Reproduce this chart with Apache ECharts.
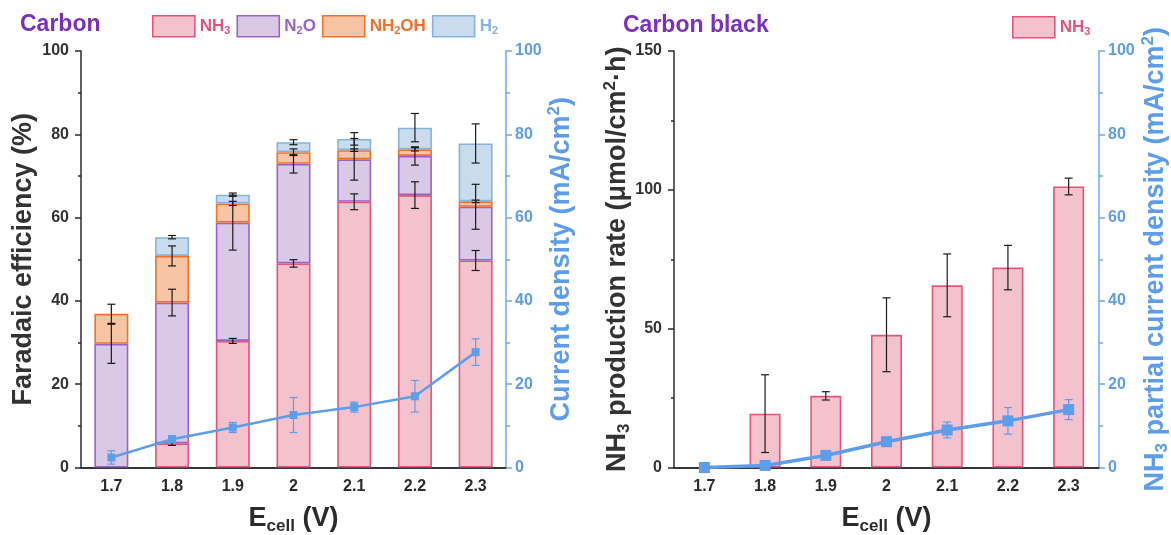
<!DOCTYPE html>
<html>
<head>
<meta charset="utf-8">
<script src="https://cdn.jsdelivr.net/npm/echarts@6/dist/echarts.min.js"></script>
<style>
  html, body { margin: 0; padding: 0; background: #fff; }
  #chart { width: 1171px; height: 535px; }
</style>
</head>
<body>
<div id="chart"></div>
<script>
// Cell voltages (V)
const categories = ['1.7', '1.8', '1.9', '2', '2.1', '2.2', '2.3'];

// Carbon: Faradaic efficiency per product (%), stacked
const feNH3   = [null, 5.8, 30.4, 49.0, 63.8, 65.4, 49.7];
const feN2O   = [29.7, 33.8, 28.4, 23.9, 10.2, 9.4, 12.9];
const feNH2OH = [7.2, 11.2, 4.6, 2.8, 2.2, 1.6, 1.3];
const feH2    = [null, 4.5, 2.1, 2.4, 2.7, 5.2, 13.9];
// error of each stacked segment (drawn at the segment top)
const feNH3Err   = [null, 0.5, 0.6, 0.9, 1.9, 3.2, 2.4];
const feN2OErr   = [4.7, 3.2, 6.6, 2.2, 5.0, 2.2, 5.4];
const feNH2OHErr = [2.3, 2.4, 0.5, 0.8, 0.3, 0.4, 0.3];
const feH2Err    = [null, 0.4, 0.4, 0.6, 1.5, 3.4, 4.7];

// Carbon: total current density (mA/cm2)
const currentDensity    = [2.4, 6.8, 9.6, 12.6, 14.5, 17.1, 27.7];
const currentDensityErr = [1.6, 0.8, 1.2, 4.2, 1.2, 3.8, 3.2];

// Carbon black: NH3 production rate (umol/cm2 h)
const nh3Rate    = [null, 19.4, 25.8, 47.8, 65.6, 72.0, 101.2];
const nh3RateErr = [null, 14.0, 1.5, 13.3, 11.3, 8.0, 3.0];

// Carbon black: NH3 partial current density (mA/cm2)
const nh3Partial    = [0, 0.5, 2.9, 6.2, 9.0, 11.2, 13.9];
const nh3PartialErr = [null, 0.3, 0.5, 0.7, 1.9, 3.2, 2.4];

// Axis ticks
const feTicks = { min: 0, max: 100, interval: 20 };
const jTicks = { min: 0, max: 100, interval: 20 };
const rateTicks = { min: 0, max: 150, interval: 50 };

const FONT = 'Liberation Sans, Arial, sans-serif';
const C = {
  nh3:   { fill: '#f4c2cd', line: '#e2557a' },
  n2o:   { fill: '#d9c9e6', line: '#9c62c4' },
  nh2oh: { fill: '#f7c5a3', line: '#f07127' },
  h2:    { fill: '#c9dcee', line: '#86b3dc' },
  blue: '#5d9de9',
  axisBlue: '#6ea8ef',
  dark: '#2b2b2b',
  purple: '#7a2fbd'
};

// rich-text styles: m = main, s = subscript, p = superscript
function richSet(color, size) {
  return {
    m: { color: color, fontSize: size, fontWeight: 'bold', fontFamily: FONT, lineHeight: size + 4 },
    s: { color: color, fontSize: Math.round(size * 0.62), fontWeight: 'bold', fontFamily: FONT,
         verticalAlign: 'bottom', lineHeight: Math.round(size * 0.62) },
    p: { color: color, fontSize: Math.round(size * 0.62), fontWeight: 'bold', fontFamily: FONT,
         verticalAlign: 'top', lineHeight: Math.round(size * 0.62) }
  };
}

const legendLabels = {
  'NH3': '{m|NH}{s|3}',
  'N2O': '{m|N}{s|2}{m|O}',
  'NH2OH': '{m|NH}{s|2}{m|OH}',
  'H2': '{m|H}{s|2}',
  'NH3 rate': '{m|NH}{s|3}'
};

function legendItem(name, color) {
  return { name: name, textStyle: { rich: richSet(color, 17) } };
}

// stacked tops for placing segment error bars
const stacks = [feNH3, feN2O, feNH2OH, feH2];
const stackErrs = [feNH3Err, feN2OErr, feNH2OHErr, feH2Err];
const stackColors = [C.nh3, C.n2o, C.nh2oh, C.h2];
const stackNames = ['NH3', 'N2O', 'NH2OH', 'H2'];
const feErrData = [];
let running = categories.map(() => 0);
stacks.forEach((s, k) => {
  running = running.map((r, i) => r + (s[i] || 0));
  s.forEach((v, i) => {
    if (v != null && stackErrs[k][i] != null) feErrData.push([i, running[i], stackErrs[k][i]]);
  });
});

function pairErr(values, errs) {
  const out = [];
  values.forEach((v, i) => { if (v != null && errs[i] != null) out.push([i, v, errs[i]]); });
  return out;
}

function errorBar(color, cap, width) {
  return function (params, api) {
    const x = api.value(0), y = api.value(1), e = api.value(2);
    const lo = api.coord([x, y - e]);
    const hi = api.coord([x, y + e]);
    const st = { stroke: color, lineWidth: width };
    return {
      type: 'group',
      children: [
        { type: 'line', shape: { x1: lo[0], y1: lo[1], x2: hi[0], y2: hi[1] }, style: st },
        { type: 'line', shape: { x1: lo[0] - cap, y1: lo[1], x2: lo[0] + cap, y2: lo[1] }, style: st },
        { type: 'line', shape: { x1: hi[0] - cap, y1: hi[1], x2: hi[0] + cap, y2: hi[1] }, style: st }
      ]
    };
  };
}

function bottomAxis(gridIndex) {
  return {
    type: 'category', gridIndex: gridIndex, data: categories, position: 'bottom',
    axisLine: { lineStyle: { color: C.dark, width: 1.5 } },
    axisTick: { alignWithLabel: true, length: 5, lineStyle: { color: C.dark, width: 1.5 } },
    axisLabel: { color: C.dark, fontSize: 16, fontWeight: 'bold', fontFamily: FONT, margin: 11 },
    name: '{m|E}{s|cell}{m| (V)}',
    nameLocation: 'middle', nameGap: 36, nameMoveOverlap: false,
    nameTextStyle: { rich: richSet(C.dark, 27) }
  };
}
function topAxis(gridIndex) {
  return {
    type: 'category', gridIndex: gridIndex, data: categories, position: 'top',
    axisLine: { lineStyle: { color: C.dark, width: 1.5 } },
    axisTick: { show: false }, axisLabel: { show: false }
  };
}
function leftAxis(gridIndex, ticks, name, gap) {
  return {
    type: 'value', gridIndex: gridIndex, position: 'left',
    min: ticks.min, max: ticks.max, interval: ticks.interval,
    splitLine: { show: false },
    axisLine: { show: true, lineStyle: { color: C.dark, width: 1.5 } },
    axisTick: { show: true, length: 6, lineStyle: { color: C.dark, width: 1.5 } },
    minorTick: { show: true, splitNumber: 2, length: 3, lineStyle: { color: C.dark, width: 1.5 } },
    axisLabel: { color: '#333', fontSize: 16, fontWeight: 'bold', fontFamily: FONT, margin: 12 },
    name: name, nameLocation: 'middle', nameRotate: 90, nameGap: gap, nameMoveOverlap: false,
    nameTextStyle: { rich: richSet('#333', 27) }
  };
}
function rightAxis(gridIndex, ticks, name, gap) {
  return {
    type: 'value', gridIndex: gridIndex, position: 'right',
    min: ticks.min, max: ticks.max, interval: ticks.interval,
    splitLine: { show: false },
    axisLine: { show: true, lineStyle: { color: C.axisBlue, width: 1.5 } },
    axisTick: { show: true, length: 6, lineStyle: { color: C.axisBlue, width: 1.5 } },
    minorTick: { show: true, splitNumber: 2, length: 4, lineStyle: { color: C.axisBlue, width: 1.5 } },
    axisLabel: { color: C.blue, fontSize: 16, fontWeight: 'bold', fontFamily: FONT, margin: 9 },
    name: name, nameLocation: 'middle', nameRotate: 90, nameGap: gap, nameMoveOverlap: false,
    nameTextStyle: { rich: richSet(C.blue, 27) }
  };
}

const series = [];
stacks.forEach((s, k) => {
  series.push({
    name: stackNames[k], type: 'bar', stack: 'fe', xAxisIndex: 0, yAxisIndex: 0,
    barWidth: 34, data: s,
    itemStyle: { color: stackColors[k].fill, borderColor: stackColors[k].line, borderWidth: 1.6 }
  });
});
series.push({
  type: 'custom', xAxisIndex: 0, yAxisIndex: 0, data: feErrData,
  encode: { x: 0, y: 1 }, renderItem: errorBar('#1a1a1a', 4, 1.2), z: 3
});
series.push({
  type: 'custom', xAxisIndex: 0, yAxisIndex: 1, data: pairErr(currentDensity, currentDensityErr),
  encode: { x: 0, y: 1 }, renderItem: errorBar(C.blue, 4, 1.2), z: 4
});
series.push({
  name: 'Current density', type: 'line', xAxisIndex: 0, yAxisIndex: 1, data: currentDensity,
  symbol: 'rect', symbolSize: 8, lineStyle: { color: C.blue, width: 2.5 },
  itemStyle: { color: C.blue }, z: 5
});

series.push({
  name: 'NH3 rate', type: 'bar', xAxisIndex: 2, yAxisIndex: 2, barWidth: 31, data: nh3Rate,
  itemStyle: { color: C.nh3.fill, borderColor: C.nh3.line, borderWidth: 1.6 }
});
series.push({
  type: 'custom', xAxisIndex: 2, yAxisIndex: 2, data: pairErr(nh3Rate, nh3RateErr),
  encode: { x: 0, y: 1 }, renderItem: errorBar('#1a1a1a', 4, 1.2), z: 3
});
series.push({
  type: 'custom', xAxisIndex: 2, yAxisIndex: 3, data: pairErr(nh3Partial, nh3PartialErr),
  encode: { x: 0, y: 1 }, renderItem: errorBar(C.blue, 4, 1.2), z: 4
});
series.push({
  name: 'NH3 partial', type: 'line', xAxisIndex: 2, yAxisIndex: 3, data: nh3Partial,
  symbol: 'rect', symbolSize: 11, lineStyle: { color: C.blue, width: 3.5 },
  itemStyle: { color: C.blue }, z: 5
});

const option = {
  animation: false,
  backgroundColor: '#fff',
  textStyle: { fontFamily: FONT },
  graphic: [
    { type: 'text', left: 20, top: 13, style: { text: 'Carbon', fill: C.purple, font: 'bold 23px ' + FONT } },
    { type: 'text', left: 623, top: 14, style: { text: 'Carbon black', fill: C.purple, font: 'bold 23px ' + FONT } }
  ],
  legend: [
    {
      left: 147, top: 10, itemWidth: 42, itemHeight: 21, itemGap: 6, orient: 'horizontal',
      selectedMode: false, icon: 'rect',
      data: [legendItem('NH3', C.nh3.line), legendItem('N2O', C.n2o.line),
             legendItem('NH2OH', C.nh2oh.line), legendItem('H2', C.h2.line)],
      formatter: (n) => legendLabels[n],
      itemStyle: { borderWidth: 1.6 }
    },
    {
      left: 1007, top: 11, itemWidth: 42, itemHeight: 21, selectedMode: false, icon: 'rect',
      data: [legendItem('NH3 rate', C.nh3.line)],
      formatter: (n) => legendLabels[n],
      itemStyle: { borderWidth: 1.6 }
    }
  ],
  grid: [
    { left: 81, width: 425, top: 51, height: 416.5, outerBoundsMode: 'none', containLabel: false },
    { left: 674, width: 425, top: 51, height: 416.5, outerBoundsMode: 'none', containLabel: false }
  ],
  xAxis: [bottomAxis(0), topAxis(0), bottomAxis(1), topAxis(1)],
  yAxis: [
    leftAxis(0, feTicks, '{m|Faradaic efficiency (%)}', 42),
    rightAxis(0, jTicks, '{m|Current density (mA/cm}{p|2}{m|)}', 40),
    leftAxis(1, rateTicks, '{m|NH}{s|3}{m| production rate (μmol/cm}{p|2}{m|·h)}', 41),
    rightAxis(1, jTicks, '{m|NH}{s|3}{m| partial current density (mA/cm}{p|2}{m|)}', 41)
  ],
  series: series
};

const chart = echarts.init(document.getElementById('chart'), null, { renderer: 'canvas' });
chart.setOption(option);
</script>
</body>
</html>
